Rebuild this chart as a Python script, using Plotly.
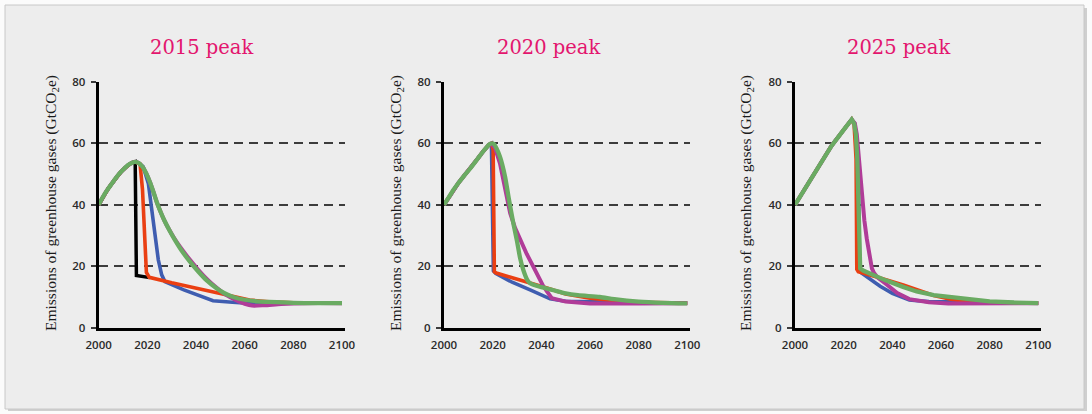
import plotly.graph_objects as go

# ---------------- data ----------------
panel_titles = ["2015 peak", "2020 peak", "2025 peak"]
x_ticks = [2000, 2020, 2040, 2060, 2080, 2100]
y_ticks = [0, 20, 40, 60, 80]
y_title = "Emissions of greenhouse gases (GtCO<sub>2</sub>e)"

# Panel 1 (2015 peak)
p1_rise_x = [2000, 2001, 2002, 2003, 2004, 2005, 2006, 2007, 2008, 2009, 2010, 2011, 2012, 2013, 2014, 2015]
p1_rise_y = [40, 41.5, 42.9, 44.2, 45.4, 46.5, 47.6, 48.7, 49.7, 50.6, 51.4, 52.2, 52.9, 53.4, 53.8, 54]

p1_black_x = p1_rise_x + [2015.5, 2021]
p1_black_y = p1_rise_y + [17, 16.3]

p1_red_x = p1_rise_x + [2017, 2018, 2019.6, 2020.8, 2030, 2040, 2055.3, 2062, 2070, 2080, 2100]
p1_red_y = p1_rise_y + [53.3, 45, 18, 16.4, 14.6, 12.8, 10.0, 9.0, 8.4, 8.1, 8]

p1_blue_x = p1_rise_x + [2016.5, 2018.3, 2020.4, 2021.8, 2023.1, 2024.5, 2025.9, 2027.2, 2035, 2047, 2055, 2061, 2070, 2100]
p1_blue_y = p1_rise_y + [53.6, 52.4, 47, 38.3, 28.6, 22.1, 17.2, 15, 12.3, 8.8, 8.3, 8.0, 8.0, 8]

p1_mag_x = p1_rise_x + [2016.5, 2018, 2019.5, 2021, 2022.5, 2024, 2025.5, 2027, 2029, 2031, 2034, 2037.5, 2041, 2044.4, 2048, 2051.5, 2055.3, 2058, 2060, 2063, 2068, 2075, 2085, 2100]
p1_mag_y = p1_rise_y + [53.6, 52.4, 50.3, 47.5, 44.2, 40.6, 37.6, 34.9, 31.9, 29.2, 25.7, 22.1, 18.8, 15.9, 13.3, 11.1, 9.4, 8.4, 7.8, 7.2, 7.3, 7.7, 8.0, 8]

p1_green_x = p1_rise_x + [2016.5, 2018, 2019.5, 2021, 2022.5, 2024, 2025.5, 2027, 2029, 2031, 2034, 2037.5, 2041, 2044.4, 2048, 2051.5, 2055.3, 2060, 2065, 2070, 2080, 2100]
p1_green_y = p1_rise_y + [53.6, 52.4, 50.3, 47.5, 44.2, 40.6, 37.6, 34.9, 31.8, 29, 25.2, 21.5, 18.2, 15.4, 13.1, 11.3, 10.0, 9.1, 8.6, 8.4, 8.1, 8]

# Panel 2 (2020 peak)
p2_rise_x = [2000, 2002, 2004, 2006, 2008, 2010, 2012, 2014, 2016, 2017.5, 2018.5, 2019.5]
p2_rise_y = [40, 42.5, 45, 47.2, 49.2, 51.1, 53.1, 55.2, 57.3, 58.7, 59.6, 60]

p2_red_x = p2_rise_x + [2020.2, 2020.7, 2021.5, 2027, 2034, 2042, 2050, 2060, 2070, 2080, 2100]
p2_red_y = p2_rise_y + [58, 18.2, 17.8, 16.5, 15, 13, 11, 9.6, 8.8, 8.3, 8]

p2_blue_x = p2_rise_x + [2020.3, 2021.2, 2028, 2035.4, 2043.6, 2050, 2060, 2080, 2100]
p2_blue_y = p2_rise_y + [18.5, 17.7, 14.8, 12.3, 9.4, 8.6, 8.4, 8.2, 8]

p2_mag_x = p2_rise_x + [2021, 2023, 2025, 2027.2, 2029.2, 2031.3, 2034, 2036.7, 2040.9, 2044.3, 2050, 2060, 2070, 2080, 2100]
p2_mag_y = p2_rise_y + [58.5, 53.5, 46, 37.3, 32.5, 28.6, 24, 19.9, 13.4, 9.6, 8.5, 7.9, 7.8, 7.9, 8]

p2_green_x = p2_rise_x + [2020.5, 2021.5, 2023, 2025.1, 2026.5, 2028.5, 2029.9, 2031.3, 2032.6, 2034.2, 2035.4, 2040, 2045, 2050, 2055, 2064, 2070, 2080, 2090, 2100]
p2_green_y = p2_rise_y + [59.8, 58.5, 55.7, 49.2, 42.7, 34, 28.6, 22.6, 18.8, 15.6, 14.5, 13.2, 12.2, 11.2, 10.6, 10, 9.3, 8.5, 8.1, 7.9]

# Panel 3 (2025 peak)
p3_rise_x = [2000, 2005, 2010, 2015, 2020, 2022, 2023.3]
p3_rise_y = [40, 46.5, 52.8, 59.2, 64.4, 66.5, 67.8]

p3_red_x = p3_rise_x + [2024.3, 2025.1, 2025.4, 2026, 2035, 2044.5, 2057, 2064, 2070, 2080, 2100]
p3_red_y = p3_rise_y + [66, 55, 19, 18.2, 16.2, 13.9, 10.5, 9.3, 8.6, 8.2, 8]

p3_blue_x = p3_rise_x + [2024.5, 2025.5, 2026.2, 2026.6, 2027, 2030, 2035, 2040, 2047, 2055, 2080, 2100]
p3_blue_y = p3_rise_y + [66.5, 58, 40, 19, 18, 16.2, 13.5, 11.2, 9, 8.5, 8.1, 8]

p3_mag_x = p3_rise_x + [2024.6, 2025.4, 2026.4, 2027.5, 2028.5, 2029.5, 2030.6, 2031.6, 2032.5, 2034, 2037.3, 2042, 2047, 2055, 2063, 2080, 2100]
p3_mag_y = p3_rise_y + [66.5, 63, 54, 43, 35, 29, 24, 19.3, 17.8, 16.3, 14.3, 11.3, 9.3, 8.3, 7.9, 8.0, 8]

p3_green_x = p3_rise_x + [2024.3, 2025, 2025.6, 2026, 2026.5, 2026.8, 2028, 2030.6, 2037, 2044.4, 2050, 2057, 2063.6, 2070, 2080, 2090, 2100]
p3_green_y = p3_rise_y + [66.5, 63, 55, 40, 22, 19.3, 18.6, 17.7, 15.5, 13.3, 11.8, 10.6, 10.1, 9.3, 8.6, 8.2, 8]

# ---------------- style ----------------
C_BLACK = "#000000"
C_RED = "#ea3f12"
C_BLUE = "#3f5db0"
C_MAG = "#b03c98"
C_GREEN = "#6aab62"
C_TITLE = "#e3166e"

W, H = 1092, 414
def px_x(p):
    return p / W
def px_y(p):
    return 1 - p / H

x_left = [98.7, 444.0, 795.0]
px_per_year = 2.433
x_max = 2101.2
y_top, y_bot = 82.0, 327.7

fig = go.Figure()

# (x, y, colour, width, shape)
panels = [
    [(p1_black_x, p1_black_y, C_BLACK, 3.5, "linear"), (p1_blue_x, p1_blue_y, C_BLUE, 3.6, "linear"),
     (p1_red_x, p1_red_y, C_RED, 3.6, "linear"), (p1_mag_x, p1_mag_y, C_MAG, 4, "spline"),
     (p1_green_x, p1_green_y, C_GREEN, 4.3, "spline")],
    [(p2_blue_x, p2_blue_y, C_BLUE, 3.6, "linear"), (p2_red_x, p2_red_y, C_RED, 3.6, "linear"),
     (p2_mag_x, p2_mag_y, C_MAG, 4, "linear"), (p2_green_x, p2_green_y, C_GREEN, 4.3, "spline")],
    [(p3_blue_x, p3_blue_y, C_BLUE, 3.6, "linear"), (p3_red_x, p3_red_y, C_RED, 3.6, "linear"),
     (p3_mag_x, p3_mag_y, C_MAG, 4, "linear"), (p3_green_x, p3_green_y, C_GREEN, 4.3, "linear")],
]

for i, series in enumerate(panels):
    sfx = "" if i == 0 else str(i + 1)
    for xs, ys, col, w, shp in series:
        line = dict(color=col, width=w, shape=shp)
        if shp == "spline":
            line["smoothing"] = 0.7
        fig.add_trace(go.Scatter(x=xs, y=ys, mode="lines", line=line,
                                 xaxis="x" + sfx, yaxis="y" + sfx,
                                 showlegend=False, hoverinfo="skip"))

layout = dict(
    width=W, height=H, autosize=False,
    margin=dict(l=0, r=0, t=0, b=0, pad=0),
    paper_bgcolor="#fbfbfb", plot_bgcolor="rgba(0,0,0,0)",
    showlegend=False,
)

tick_font = dict(family="Open Sans", size=11.5, color="#2a2a2a", weight=600)
annotations = []
title_cx = [201, 548, 898]
ytitle_cx = [52, 397, 747]
for i in range(3):
    sfx = "" if i == 0 else str(i + 1)
    x0 = x_left[i]
    x1 = x0 + (x_max - 2000) * px_per_year
    layout["xaxis" + sfx] = dict(
        domain=[px_x(x0), px_x(x1)], range=[2000, x_max], automargin=False,
        anchor="y" + sfx, tickvals=x_ticks, ticktext=[str(v) for v in x_ticks],
        showgrid=False, zeroline=False, showline=True, linecolor="#000000", linewidth=3,
        ticks="outside", ticklen=4, tickcolor="rgba(0,0,0,0)",
        tickfont=tick_font, fixedrange=True,
    )
    layout["yaxis" + sfx] = dict(
        domain=[px_y(y_bot), px_y(y_top)], range=[0, 80], automargin=False,
        anchor="x" + sfx, tickvals=y_ticks, ticktext=[str(v) for v in y_ticks],
        showgrid=True, gridcolor="#3c3c3c", gridwidth=1.5, griddash="9px,6px",
        zeroline=False, showline=True, linecolor="#000000", linewidth=3,
        ticks="outside", ticklen=5, tickwidth=1.5, tickcolor="#3c3c3c",
        tickfont=tick_font, ticklabelstandoff=3, fixedrange=True,
    )
    annotations.append(dict(
        text=panel_titles[i], x=px_x(title_cx[i]), y=px_y(48),
        xref="paper", yref="paper", xanchor="center", yanchor="middle",
        showarrow=False, font=dict(family="DejaVu Serif", size=19.5, color=C_TITLE)))
    annotations.append(dict(
        text=y_title, x=px_x(ytitle_cx[i]), y=px_y(203),
        xref="paper", yref="paper", xanchor="center", yanchor="middle",
        textangle=-90, showarrow=False,
        font=dict(family="Liberation Serif", size=15.5, color="#1a1a1a")))

layout["annotations"] = annotations
layout["shapes"] = [
    dict(type="rect", xref="paper", yref="paper", layer="below",
         x0=px_x(8), x1=px_x(1087), y0=px_y(411), y1=px_y(8),
         fillcolor="#cfcfcf", line=dict(width=0)),
    dict(type="rect", xref="paper", yref="paper", layer="below",
         x0=px_x(5), x1=px_x(1084), y0=px_y(409), y1=px_y(5),
         fillcolor="#ededed", line=dict(color="#c8c8c8", width=1)),
]

fig.update_layout(**layout)
fig.write_html("out.html", config={"displayModeBar": False},
               post_script="document.body.style.margin='0px';")
